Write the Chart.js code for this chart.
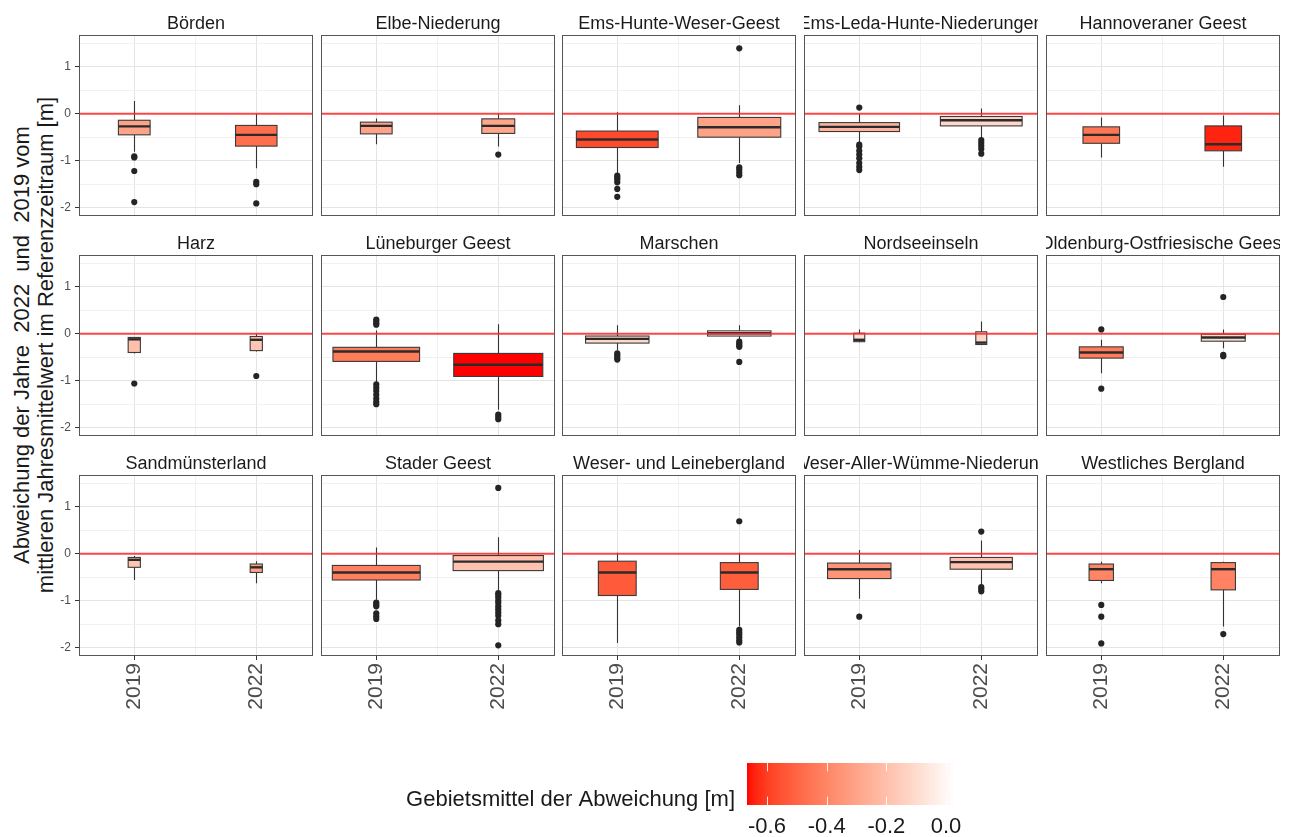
<!DOCTYPE html>
<html lang="de">
<head>
<meta charset="utf-8">
<title>Abweichung der Jahre 2022 und 2019 vom mittleren Jahresmittelwert</title>
<script src="https://cdn.jsdelivr.net/npm/chart.js@4.4.1/dist/chart.umd.min.js"></script>
<style>
  html, body { margin: 0; padding: 0; background: #ffffff; }
  body { width: 1290px; height: 837px; position: relative; overflow: hidden;
         font-family: "Liberation Sans", Arial, sans-serif; }
  canvas { position: absolute; }
  #ytitel { position: absolute; left: -286px; top: 321px; width: 640px; height: 48px;
            transform: rotate(-90deg); transform-origin: 50% 50%;
            text-align: center; font-size: 22px; line-height: 24px; color: #1a1a1a; white-space: pre; }
</style>
</head>
<body>
<div id="ytitel">Abweichung der Jahre  2022  und  2019 vom
mittleren Jahresmittelwert im Referenzzeitraum [m]</div>
<script>
// Naturräume (Facetten) und Jahre
const regionen = [
  "Börden", "Elbe-Niederung", "Ems-Hunte-Weser-Geest", "Ems-Leda-Hunte-Niederungen", "Hannoveraner Geest",
  "Harz", "Lüneburger Geest", "Marschen", "Nordseeinseln", "Oldenburg-Ostfriesische Geest",
  "Sandmünsterland", "Stader Geest", "Weser- und Leinebergland", "Weser-Aller-Wümme-Niederung", "Westliches Bergland"
];
const jahre = ["2019", "2022"];
const yTicks = [-2, -1, 0, 1];
const legendeTicks = [-0.6, -0.4, -0.2, 0.0];

// Kennwerte je Naturraum: [2019, 2022], Abweichung in m
const whiskerMax = [[0.27, 0.00], [-0.10, 0.00], [0.03, 0.18], [0.00, 0.11], [-0.08, -0.04],
                    [-0.07, 0.00], [0.07, 0.20], [0.18, 0.18], [0.09, 0.26], [-0.13, 0.09],
                    [-0.05, -0.16], [0.13, 0.35], [0.02, 0.02], [0.08, 0.28], [-0.17, -0.17]];
const q3 = [[-0.14, -0.25], [-0.18, -0.11], [-0.37, -0.08], [-0.19, -0.06], [-0.28, -0.26],
            [-0.08, -0.06], [-0.29, -0.42], [-0.05, 0.06], [0.01, 0.04], [-0.28, -0.01],
            [-0.08, -0.22], [-0.25, -0.04], [-0.16, -0.19], [-0.20, -0.08], [-0.22, -0.19]];
const median = [[-0.27, -0.45], [-0.26, -0.26], [-0.55, -0.29], [-0.28, -0.14], [-0.45, -0.65],
                [-0.12, -0.13], [-0.38, -0.66], [-0.11, 0.01], [-0.13, -0.19], [-0.40, -0.08],
                [-0.13, -0.29], [-0.40, -0.17], [-0.40, -0.40], [-0.33, -0.18], [-0.33, -0.33]];
const q1 = [[-0.45, -0.69], [-0.43, -0.42], [-0.72, -0.50], [-0.38, -0.26], [-0.63, -0.79],
            [-0.40, -0.36], [-0.59, -0.91], [-0.20, -0.05], [-0.17, -0.23], [-0.52, -0.16],
            [-0.29, -0.40], [-0.56, -0.36], [-0.89, -0.76], [-0.53, -0.33], [-0.57, -0.77]];
const whiskerMin = [[-0.81, -1.16], [-0.65, -0.70], [-1.27, -1.05], [-0.62, -0.52], [-0.93, -1.13],
                    [-0.42, -0.38], [-1.05, -1.62], [-0.35, -0.12], [-0.18, -0.24], [-0.84, -0.31],
                    [-0.56, -0.63], [-0.98, -0.78], [-1.90, -1.55], [-0.96, -0.66], [-0.63, -1.55]];
const ausreisser = [
  [[-0.91, -0.93, -1.22, -1.88], [-1.45, -1.50, -1.91]],
  [[], [-0.87]],
  [[-1.32, -1.36, -1.40, -1.46, -1.60, -1.77], [-1.14, -1.19, -1.25, -1.31, 1.39]],
  [[0.13, -0.66, -0.70, -0.79, -0.87, -0.95, -1.05, -1.13, -1.20], [-0.56, -0.62, -0.68, -0.75, -0.85]],
  [[], []],
  [[-1.06], [-0.90]],
  [[0.30, 0.27, 0.22, 0.19, -1.08, -1.15, -1.22, -1.30, -1.38, -1.45, -1.50], [-1.72, -1.77, -1.82]],
  [[-0.42, -0.46, -0.51, -0.55], [-0.17, -0.21, -0.25, -0.28, -0.60]],
  [[], []],
  [[0.09, -1.17], [0.78, -0.45, -0.48]],
  [[], []],
  [[-1.04, -1.08, -1.12, -1.27, -1.33, -1.39], [1.40, -0.84, -0.88, -0.93, -1.00, -1.05, -1.12, -1.18, -1.25, -1.32, -1.42, -1.50, -1.95]],
  [[], [0.69, -1.62, -1.67, -1.72, -1.78, -1.84, -1.89]],
  [[-1.34], [0.47, -0.71, -0.75, -0.80]],
  [[-1.09, -1.34, -1.91], [-1.71]]
];
// Gebietsmittel der Abweichung (Füllfarbe der Box)
const gebietsmittel = [[-0.30, -0.47], [-0.30, -0.29], [-0.57, -0.30], [-0.24, -0.12], [-0.45, -0.64],
                       [-0.20, -0.18], [-0.43, -0.667], [-0.11, 0.03], [-0.08, -0.12], [-0.43, -0.09],
                       [-0.18, -0.31], [-0.42, -0.19], [-0.53, -0.52], [-0.35, -0.19], [-0.40, -0.41]];
// relative Boxbreite (proportional zur Wurzel der Messstellenzahl)
const boxBreite = [[0.26, 0.34], [0.26, 0.27], [0.67, 0.68], [0.66, 0.67], [0.30, 0.30],
                   [0.10, 0.10], [0.71, 0.73], [0.52, 0.52], [0.09, 0.09], [0.36, 0.36],
                   [0.10, 0.10], [0.72, 0.74], [0.31, 0.31], [0.52, 0.51], [0.20, 0.20]];

// ---------- Farbskala rot -> weiß, interpoliert im CIELAB-Raum ----------
const skalaMin = Math.min(...gebietsmittel.flat());
const skalaMax = Math.max(...gebietsmittel.flat());
function toLin(c) { c /= 255; return c <= 0.04045 ? c / 12.92 : Math.pow((c + 0.055) / 1.055, 2.4); }
function fromLin(c) {
  const v = c <= 0.0031308 ? 12.92 * c : 1.055 * Math.pow(c, 1 / 2.4) - 0.055;
  return Math.round(Math.max(0, Math.min(1, v)) * 255);
}
function rgbToLab(r, g, b) {
  const R = toLin(r), G = toLin(g), B = toLin(b);
  const X = (0.4124564 * R + 0.3575761 * G + 0.1804375 * B) / 0.95047;
  const Y = (0.2126729 * R + 0.7151522 * G + 0.0721750 * B);
  const Z = (0.0193339 * R + 0.1191920 * G + 0.9503041 * B) / 1.08883;
  const f = t => t > 216 / 24389 ? Math.cbrt(t) : (24389 / 27 * t + 16) / 116;
  const fx = f(X), fy = f(Y), fz = f(Z);
  return [116 * fy - 16, 500 * (fx - fy), 200 * (fy - fz)];
}
function labToRgb(L, a, b) {
  const fy = (L + 16) / 116, fx = fy + a / 500, fz = fy - b / 200;
  const inv = t => (t * t * t > 216 / 24389) ? t * t * t : (116 * t - 16) / (24389 / 27);
  const X = inv(fx) * 0.95047, Y = inv(fy), Z = inv(fz) * 1.08883;
  const R = 3.2404542 * X - 1.5371385 * Y - 0.4985314 * Z;
  const G = -0.9692660 * X + 1.8760108 * Y + 0.0415560 * Z;
  const B = 0.0556434 * X - 0.2040259 * Y + 1.0572252 * Z;
  return `rgb(${fromLin(R)},${fromLin(G)},${fromLin(B)})`;
}
const labNiedrig = rgbToLab(255, 0, 0), labHoch = rgbToLab(255, 255, 255);
function fuellfarbe(v) {
  const t = Math.max(0, Math.min(1, (v - skalaMin) / (skalaMax - skalaMin)));
  return labToRgb(labNiedrig[0] + t * (labHoch[0] - labNiedrig[0]),
                  labNiedrig[1] + t * (labHoch[1] - labNiedrig[1]),
                  labNiedrig[2] + t * (labHoch[2] - labNiedrig[2]));
}

// ---------- Plugins ----------
const SCHRIFT = '"Liberation Sans", Arial, sans-serif';
Chart.defaults.font.family = SCHRIFT;

// Boxen, Whisker, Median und die Null-Linie über die Achsen der Chart-Instanz
const boxplotPlugin = {
  id: 'boxplot',
  beforeDatasetsDraw(chart, args, opts) {
    const { ctx, chartArea: a, scales: { x, y } } = chart;
    const i = opts.region;
    ctx.save();
    ctx.beginPath(); ctx.rect(a.left, a.top, a.right - a.left, a.bottom - a.top); ctx.clip();
    for (let j = 0; j < jahre.length; j++) {
      const pos = j + 1;
      const cx = Math.round(x.getPixelForValue(pos)) + 0.5;
      const xl = x.getPixelForValue(pos - boxBreite[i][j] / 2);
      const xr = x.getPixelForValue(pos + boxBreite[i][j] / 2);
      const yo = y.getPixelForValue(q3[i][j]);
      const yu = y.getPixelForValue(q1[i][j]);
      ctx.strokeStyle = '#333333';
      ctx.lineWidth = 1.1;
      ctx.beginPath();
      ctx.moveTo(cx, y.getPixelForValue(whiskerMax[i][j])); ctx.lineTo(cx, yo);
      ctx.moveTo(cx, yu); ctx.lineTo(cx, y.getPixelForValue(whiskerMin[i][j]));
      ctx.stroke();
      ctx.fillStyle = fuellfarbe(gebietsmittel[i][j]);
      ctx.fillRect(xl, yo, xr - xl, yu - yo);
      ctx.strokeStyle = '#3a3a3a';
      ctx.strokeRect(xl, yo, xr - xl, yu - yo);
      ctx.strokeStyle = '#2b2b2b';
      ctx.lineWidth = 2.4;
      const ym = y.getPixelForValue(median[i][j]);
      ctx.beginPath(); ctx.moveTo(xl, ym); ctx.lineTo(xr, ym); ctx.stroke();
    }
    const y0 = y.getPixelForValue(0);
    ctx.strokeStyle = 'rgba(255,40,40,0.85)';
    ctx.lineWidth = 2;
    ctx.beginPath(); ctx.moveTo(a.left, y0); ctx.lineTo(a.right, y0); ctx.stroke();
    ctx.restore();
  }
};

// Facettentitel über dem Panel, auf die Panelbreite beschnitten
const streifenPlugin = {
  id: 'streifen',
  afterDraw(chart, args, opts) {
    const { ctx, chartArea: a } = chart;
    ctx.save();
    ctx.beginPath(); ctx.rect(a.left, 0, a.right - a.left, a.top); ctx.clip();
    ctx.font = '18px ' + SCHRIFT;
    ctx.fillStyle = '#1a1a1a';
    ctx.textAlign = 'center';
    ctx.textBaseline = 'alphabetic';
    ctx.fillText(opts.text, (a.left + a.right) / 2, a.top - 6.5);
    ctx.restore();
  }
};

// Panelrahmen
const rahmenPlugin = {
  id: 'rahmen',
  afterDraw(chart) {
    const { ctx, chartArea: a } = chart;
    ctx.save();
    ctx.strokeStyle = '#555555';
    ctx.lineWidth = 1;
    ctx.strokeRect(a.left + 0.5, a.top + 0.5, a.right - a.left - 1, a.bottom - a.top - 1);
    ctx.restore();
  }
};

// ---------- Facetten ----------
const spaltenLinks = [79, 321, 562, 804, 1046];
const zeilenOben = [35, 255, 475];
const PANEL_B = 234, PANEL_H = 181, STREIFEN = 35;
const GITTER_HAUPT = '#e4e4e4', GITTER_NEBEN = '#f1f1f1';
const yGitter = yTicks.flatMap(v => [v, v + 0.5]);
const xGitter = [1, 1.5, 2];

regionen.forEach((name, i) => {
  const spalte = i % 5, zeile = Math.floor(i / 5);
  const links = spalte === 0 ? 62 : 0;
  const unten = zeile === 2 ? 70 : 14;
  const cv = document.createElement('canvas');
  cv.width = PANEL_B + links;
  cv.height = STREIFEN + PANEL_H + unten;
  cv.style.width = cv.width + 'px';
  cv.style.height = cv.height + 'px';
  cv.style.left = (spaltenLinks[spalte] - links) + 'px';
  cv.style.top = (zeilenOben[zeile] - STREIFEN) + 'px';
  document.body.appendChild(cv);

  const punkte = [];
  ausreisser[i].forEach((werte, j) => werte.forEach(v => punkte.push({ x: j + 1, y: v })));

  new Chart(cv, {
    type: 'scatter',
    data: {
      datasets: [{
        data: punkte,
        pointRadius: 3.1,
        pointHoverRadius: 3.1,
        backgroundColor: '#242424',
        borderWidth: 0
      }]
    },
    options: {
      responsive: false,
      animation: false,
      devicePixelRatio: 1,
      events: [],
      layout: { autoPadding: false, padding: { top: STREIFEN, left: 0, right: 0, bottom: 0 } },
      plugins: {
        legend: { display: false },
        tooltip: { enabled: false },
        boxplot: { region: i },
        streifen: { text: name }
      },
      scales: {
        x: {
          type: 'linear',
          min: 0.547, max: 2.465,
          offset: false,
          afterBuildTicks: s => { s.ticks = xGitter.map(v => ({ value: v })); },
          afterFit: s => { s.height = unten; },
          border: { display: false },
          grid: {
            offset: false,
            lineWidth: 1,
            color: c => (c.tick && c.tick.value === 1.5) ? GITTER_NEBEN : GITTER_HAUPT,
            drawTicks: zeile === 2,
            tickLength: 4,
            tickColor: c => (c.tick && c.tick.value === 1.5) ? 'rgba(0,0,0,0)' : '#333333'
          },
          ticks: {
            display: zeile === 2,
            autoSkip: false,
            minRotation: 90, maxRotation: 90,
            padding: 3,
            font: { size: 21 },
            color: '#4d4d4d',
            callback: v => v === 1 ? jahre[0] : (v === 2 ? jahre[1] : '')
          }
        },
        y: {
          type: 'linear',
          min: -2.177, max: 1.674,
          afterBuildTicks: s => { s.ticks = yGitter.map(v => ({ value: v })); },
          afterFit: s => { s.width = links; },
          border: { display: false },
          grid: {
            lineWidth: 1,
            color: c => (c.tick && Number.isInteger(c.tick.value)) ? GITTER_HAUPT : GITTER_NEBEN,
            drawTicks: spalte === 0,
            tickLength: 4,
            tickColor: c => (c.tick && Number.isInteger(c.tick.value)) ? '#333333' : 'rgba(0,0,0,0)'
          },
          ticks: {
            display: spalte === 0,
            autoSkip: false,
            padding: 4,
            font: { size: 12 },
            color: '#4d4d4d',
            callback: v => yTicks.includes(v) ? String(v) : ''
          }
        }
      }
    },
    plugins: [boxplotPlugin, streifenPlugin, rahmenPlugin]
  });
});

// ---------- Farblegende ----------
const farbbalkenPlugin = {
  id: 'farbbalken',
  beforeDatasetsDraw(chart) {
    const { ctx, chartArea: a, scales: { x } } = chart;
    ctx.save();
    for (let px = Math.floor(a.left); px < a.right; px++) {
      ctx.fillStyle = fuellfarbe(x.getValueForPixel(px + 0.5));
      ctx.fillRect(px, a.top, 1, a.bottom - a.top);
    }
    const h = (a.bottom - a.top) / 5;
    ctx.strokeStyle = 'rgba(255,255,255,0.85)';
    ctx.lineWidth = 1;
    legendeTicks.forEach(v => {
      const p = Math.round(x.getPixelForValue(v)) + 0.5;
      ctx.beginPath();
      ctx.moveTo(p, a.top); ctx.lineTo(p, a.top + h);
      ctx.moveTo(p, a.bottom - h); ctx.lineTo(p, a.bottom);
      ctx.stroke();
    });
    ctx.font = '22px ' + SCHRIFT;
    ctx.fillStyle = '#1a1a1a';
    ctx.textAlign = 'right';
    ctx.textBaseline = 'middle';
    ctx.fillText('Gebietsmittel der Abweichung [m]', a.left - 12, 50);
    ctx.restore();
  }
};

const lc = document.createElement('canvas');
lc.width = 610; lc.height = 87;
lc.style.width = '610px'; lc.style.height = '87px';
lc.style.left = '380px'; lc.style.top = '750px';
document.body.appendChild(lc);
new Chart(lc, {
  type: 'scatter',
  data: { datasets: [] },
  options: {
    responsive: false,
    animation: false,
    devicePixelRatio: 1,
    events: [],
    layout: { autoPadding: false, padding: { left: 367, right: 35, top: 13, bottom: 0 } },
    plugins: { legend: { display: false }, tooltip: { enabled: false } },
    scales: {
      x: {
        type: 'linear',
        min: skalaMin, max: skalaMax,
        afterBuildTicks: s => { s.ticks = legendeTicks.map(v => ({ value: v })); },
        afterFit: s => { s.height = 32; },
        border: { display: false },
        grid: { display: false, drawTicks: false },
        ticks: { padding: 9, font: { size: 22 }, color: '#1a1a1a', autoSkip: false,
                 maxRotation: 0, callback: v => v.toFixed(1) }
      },
      y: { display: false, min: 0, max: 1 }
    }
  },
  plugins: [farbbalkenPlugin]
});
</script>
</body>
</html>
